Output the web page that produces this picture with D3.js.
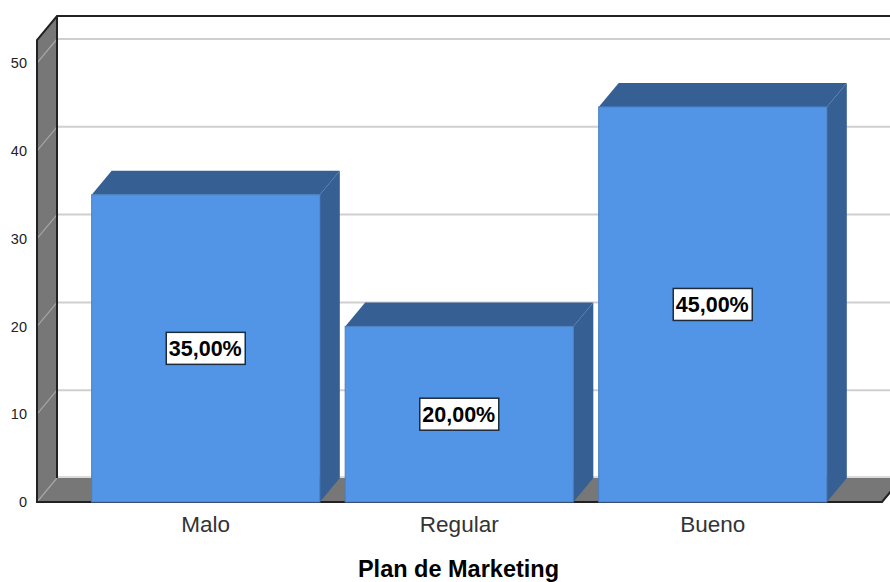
<!DOCTYPE html>
<html>
<head>
<meta charset="utf-8">
<script src="https://cdn.jsdelivr.net/npm/d3@7/dist/d3.min.js"></script>
<style>
html,body{margin:0;padding:0;background:#fff}
svg{display:block}
text{font-family:"Liberation Sans",Arial,sans-serif}
</style>
</head>
<body>
<svg id="chart" width="890" height="582"></svg>
<script>
// Plan de Marketing: share of responses per rating
const categories = ["Malo", "Regular", "Bueno"];
const percentages = [35, 20, 45];
const tickValues = [0, 10, 20, 30, 40, 50];
const axisTitle = "Plan de Marketing";

const svg = d3.select("#chart");

// Oblique projection offset between the front plane and the back wall
const depthX = 20, depthY = -24;

const y = d3.scaleLinear().domain([0, 50]).range([502, 63]);
const x = d3.scaleBand().domain(categories).range([79, 839.5])
  .paddingInner(0.1).paddingOuter(0.05);

const frontLeft = 37, frontRight = 882, frontTop = 40;
const base = y(0);
const poly = pts => pts.map(p => p.join(",")).join(" ");

// Left wall
svg.append("polygon")
  .attr("points", poly([[frontLeft, base], [frontLeft, frontTop],
    [frontLeft + depthX, frontTop + depthY], [frontLeft + depthX, base + depthY]]))
  .attr("fill", "#777777");

// Floor
svg.append("polygon")
  .attr("points", poly([[frontLeft, base], [frontLeft + depthX, base + depthY],
    [frontRight + depthX, base + depthY], [frontRight, base]]))
  .attr("fill", "#777777");

// Gridlines: a faint diagonal on the wall, then a light rule along the back
const grid = svg.append("g");
tickValues.forEach(t => {
  grid.append("line")
    .attr("x1", frontLeft).attr("y1", y(t))
    .attr("x2", frontLeft + depthX).attr("y2", y(t) + depthY)
    .attr("stroke", "#a6a6a6").attr("stroke-width", 1.2);
  if (t > 0) {
    grid.append("line")
      .attr("x1", frontLeft + depthX).attr("y1", y(t) + depthY)
      .attr("x2", 890).attr("y2", y(t) + depthY)
      .attr("stroke", "#cfcfcf").attr("stroke-width", 2);
  }
});

// Light edge where the floor meets the back wall
svg.append("line")
  .attr("x1", frontLeft + depthX).attr("y1", base + depthY - 1)
  .attr("x2", 890).attr("y2", base + depthY - 1)
  .attr("stroke", "#cfcfcf").attr("stroke-width", 1.5);

// Frame
svg.append("path")
  .attr("fill", "none").attr("stroke", "#222").attr("stroke-width", 2)
  .attr("d", d3.line()([
    [frontRight + depthX, frontTop + depthY],
    [frontLeft + depthX, frontTop + depthY],
    [frontLeft, frontTop],
    [frontLeft, base],
    [frontRight, base],
    [frontRight + depthX, base + depthY]
  ]));
svg.append("line")
  .attr("x1", frontLeft + depthX).attr("y1", frontTop + depthY)
  .attr("x2", frontLeft + depthX).attr("y2", base + depthY)
  .attr("stroke", "#222").attr("stroke-width", 2);

// Bars: side, top, then front face
const bars = svg.selectAll("g.bar")
  .data(categories.map((c, i) => ({ c, v: percentages[i] })))
  .join("g").attr("class", "bar");

bars.append("polygon")
  .attr("fill", "#365f94")
  .attr("points", d => {
    const r = x(d.c) + x.bandwidth();
    return poly([[r, y(d.v)], [r + depthX, y(d.v) + depthY],
      [r + depthX, base + depthY], [r, base]]);
  });

bars.append("polygon")
  .attr("fill", "#365f94")
  .attr("points", d => {
    const l = x(d.c), r = l + x.bandwidth();
    return poly([[l, y(d.v)], [l + depthX, y(d.v) + depthY],
      [r + depthX, y(d.v) + depthY], [r, y(d.v)]]);
  });

bars.append("rect")
  .attr("x", d => x(d.c))
  .attr("y", d => y(d.v))
  .attr("width", x.bandwidth())
  .attr("height", d => base - y(d.v))
  .attr("fill", "#5294e6")
  .attr("stroke", "#4a7fc0").attr("stroke-width", 1);

// Value labels in boxed tags at the middle of each bar
const labelW = 79, labelH = 32;
const fmt = v => v.toFixed(2).replace(".", ",") + "%";
bars.append("rect")
  .attr("x", d => x(d.c) + x.bandwidth() / 2 - labelW / 2)
  .attr("y", d => (y(d.v) + base) / 2 - labelH / 2)
  .attr("width", labelW).attr("height", labelH)
  .attr("fill", "#fff").attr("stroke", "#1d2b3a").attr("stroke-width", 1.5);
bars.append("text")
  .attr("x", d => x(d.c) + x.bandwidth() / 2 - 0.5)
  .attr("y", d => (y(d.v) + base) / 2 + 8)
  .attr("text-anchor", "middle")
  .attr("font-size", 21.5).attr("font-weight", "bold").attr("fill", "#000")
  .text(d => fmt(d.v));

// Value axis
const yAxis = svg.append("g")
  .attr("transform", `translate(${frontLeft},0)`)
  .call(d3.axisLeft(y).tickValues(tickValues).tickSize(0).tickPadding(10));
yAxis.select(".domain").remove();
yAxis.selectAll("text")
  .attr("font-size", 14.5).attr("fill", "#222")
  .style("font-family", '"Liberation Sans",Arial,sans-serif');

// Category axis
const xAxis = svg.append("g")
  .attr("transform", `translate(0,${base})`)
  .call(d3.axisBottom(x).tickSize(0).tickPadding(14));
xAxis.select(".domain").remove();
xAxis.selectAll("text")
  .attr("font-size", 22.5).attr("fill", "#333")
  .style("font-family", '"Liberation Sans",Arial,sans-serif');

// Axis title
svg.append("text")
  .attr("x", 458.5).attr("y", 577)
  .attr("text-anchor", "middle")
  .attr("font-size", 23.5).attr("font-weight", "bold").attr("fill", "#000")
  .text(axisTitle);
</script>
</body>
</html>
